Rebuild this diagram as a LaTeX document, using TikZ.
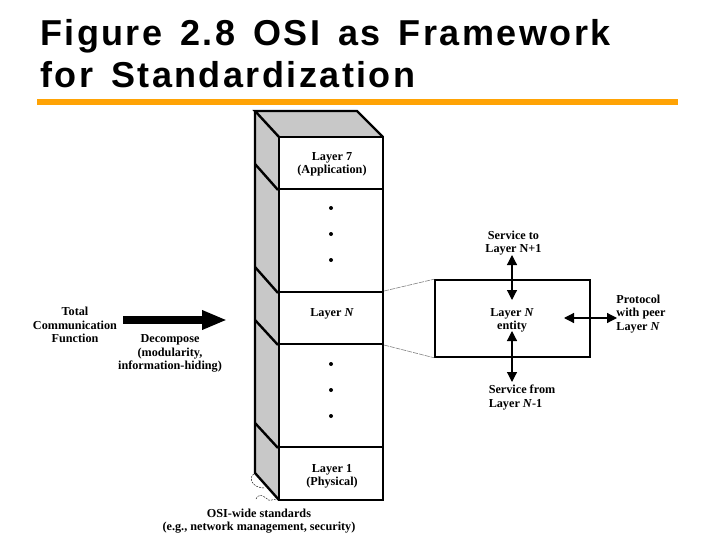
\documentclass[tikz,border=0pt]{standalone}
\usepackage{fontspec}
\setmainfont{Liberation Serif}
\newfontfamily\titlefont[LetterSpace=6.8,WordSpace=1.45]{Liberation Sans}
\usepackage{tikz}
\usetikzlibrary{positioning,calc,arrows.meta}
\definecolor{rulebar}{HTML}{FFA305}
\definecolor{sideface}{HTML}{C8C8C8}
\begin{document}
\begin{tikzpicture}[x=1pt, y=-1pt,
  title/.style={font=\titlefont\fontsize{36}{36}\selectfont\bfseries, anchor=base west, inner sep=0pt},
  layerbox/.style={draw=black, line width=2pt, fill=white, minimum width=104pt, inner sep=0pt},
  lbl/.style={font=\fontsize{12.2}{13.2}\selectfont\bfseries, align=center, inner sep=0pt},
  dotmark/.style={circle, fill=black, inner sep=0pt, minimum size=4pt},
  edge/.style={line width=1.2pt, {Triangle[length=10pt,width=10pt]}-{Triangle[length=10pt,width=10pt]}},
  thick3d/.style={line width=2.4pt, line join=miter},
  zoomline/.style={gray, line width=0.6pt, dash pattern=on 5pt off 1pt},
  squiggle/.style={black, line width=0.4pt, dash pattern=on 2pt off 1pt}
]
  \useasboundingbox (0,0) rectangle (720,540);

  \node[title] (title1) at (40,46) {Figure 2.8 OSI as Framework};
  \node[title] (title2) at (40,88) {for Standardization};
  \fill[rulebar] (37,99) rectangle (678,105.5);

  % corners of the stack
  \coordinate (backleft) at (255,111);
  \coordinate (backright) at (357,111);
  \coordinate (frontleft) at (279,137);
  \coordinate (frontright) at (383,137);
  \coordinate (sidebottom) at (255,473);
  \coordinate (frontbottom) at (279,500);

  \fill[sideface] (backleft) -- (backright) -- (frontright) -- (frontleft) -- (frontbottom) -- (sidebottom) -- cycle;
  \draw[thick3d] (frontleft) -- (backleft) -- (backright) -- (frontright);
  \draw[thick3d] (backleft) -- (sidebottom) -- (frontbottom);

  \node[layerbox, minimum height=52pt] (l7) at (331,163) {};
  \node[layerbox, minimum height=103pt] (upper) at (331,240.5) {};
  \node[layerbox, minimum height=52pt] (ln) at (331,318) {};
  \node[layerbox, minimum height=103pt] (lower) at (331,395.5) {};
  \node[layerbox, minimum height=53pt] (l1) at (331,473.5) {};

  \node[lbl] (l7txt) at (332,164.5) {Layer 7\\(Application)};
  \node[lbl] (lntxt) at (332,313.5) {Layer \textit{N}};
  \node[lbl] (l1txt) at (332,476.5) {Layer 1\\(Physical)};

  \foreach \yy/\nm in {208/a,234/b,260/c,364/d,390/e,416/f}
    \node[dotmark] (dot\nm) at (331,\yy) {};

  % slanted lines on the side
  \draw[thick3d] (255,164) -- (l7.south west);
  \draw[thick3d] (255,267) -- (upper.south west);
  \draw[thick3d] (255,320) -- (ln.south west);
  \draw[thick3d] (255,423) -- (lower.south west);

  % left part
  \node[lbl] (total) at (75,325) {Total\\Communication\\Function};
  \node[lbl] (decomp) at (170,353.5) {Decompose\\(modularity,\\information-hiding)};
  \coordinate (bigstart) at (123,320);
  \coordinate (bigend) at (227,320);
  \draw[line width=8pt, -{Triangle[length=25pt,width=18pt]}] (bigstart) -- (bigend);

  % entity box
  \node[draw=black, line width=1.6pt, minimum width=155pt, minimum height=77pt] (entity) at (512.5,318.5) {};
  \node[lbl] (entitytxt) at (512,320.5) {Layer \textit{N}\\entity};
  \node[lbl] (svcup) at (513.5,243) {Service to\\Layer N+1};
  \node[lbl, align=left] (svcdown) at (522,397.5) {Service from\\Layer \textit{N}-1};
  \node[lbl, align=left] (proto) at (641,314) {Protocol\\with peer\\Layer \textit{N}};

  \draw[zoomline] (ln.north east) -- (entity.north west);
  \draw[zoomline] (ln.south east) -- (entity.south west);

  \coordinate (upin) at (512,300);
  \coordinate (upout) at (512,255);
  \coordinate (downin) at (512,331);
  \coordinate (downout) at (512,382);
  \coordinate (protoin) at (564,318);
  \coordinate (protoout) at (617,318);
  \draw[edge] (upout) -- (upin);
  \draw[edge] (downin) -- (downout);
  \draw[edge] (protoin) -- (protoout);

  % dashed brace
  \coordinate (sqa) at (254,474);
  \coordinate (sqb) at (265,488);
  \coordinate (sqc) at (277,500);
  \draw[squiggle] (sqa) .. controls (249,476) and (250,488) .. (sqb);
  \draw[squiggle] (256,499) .. controls (259,493) and (263,496) .. (266,498) .. controls (270,503) and (272,498) .. (sqc);
  \node[lbl] (osiwide) at (259,513) {OSI-wide standards};
  \node[lbl, below=4.5pt of osiwide] (osieg) {(e.g., network management, security)};
\end{tikzpicture}
\end{document}
